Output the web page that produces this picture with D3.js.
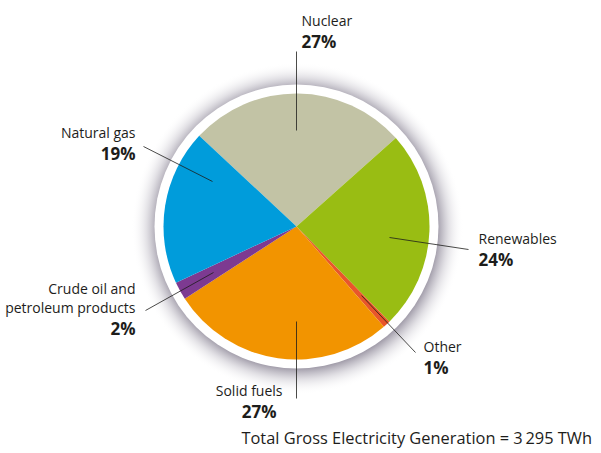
<!DOCTYPE HTML>
<html>
<head>
  <title>Gross electricity generation pie</title>
  <script src="https://d3js.org/d3.v7.min.js"></script>
  <style>
    body { margin: 0; background: #fff; }
    svg text { font-family: "Open Sans", sans-serif; fill: #1d1d1b; }
    .name { font-size: 14px; }
    .pct { font-size: 17px; font-weight: bold; }
  </style>
</head>
<body>
  <script>
    // data, clockwise from the upper-left edge of Nuclear
    var names = ["Nuclear", "Renewables", "Other", "Solid fuels", "Crude oil and|petroleum products", "Natural gas"];
    var values = [26.5, 24.3, 0.9, 27.3, 2.2, 18.9];
    var pctLabels = ["27%", "24%", "1%", "27%", "2%", "19%"];
    var colors = ["#c2c3a5", "#99bd13", "#e8562a", "#f29400", "#7d3a91", "#009cdb"];
    var totalText = "Total Gross Electricity Generation = 3\u2009295 TWh";

    // label layout: leader line (relative to centre) and text anchor
    var leaders = [
      { x1: 0, y1: -96, x2: 0, y2: -175, tx: 5, ty: -201, anchor: "start", pdx: 0 },
      { x1: 93, y1: 11, x2: 172, y2: 23, tx: 182, ty: 17, anchor: "start", pdx: 0 },
      { x1: 65, y1: 69, x2: 119, y2: 126, tx: 127, ty: 125, anchor: "start", pdx: 0 },
      { x1: 0, y1: 95, x2: 0, y2: 172, tx: -14, ty: 169, anchor: "end", pdx: -6 },
      { x1: -83, y1: 46, x2: -151, y2: 84, tx: -161, ty: 67, anchor: "end", pdx: 0 },
      { x1: -84, y1: -45, x2: -153, y2: -80, tx: -161, ty: -89, anchor: "end", pdx: 0 }
    ];

    var width = 601, height = 453;
    var cx = 296.5, cy = 226.5, radius = 133;
    var startDeg = -47;

    var svg = d3.select("body").append("svg")
      .attr("width", width)
      .attr("height", height);

    var defs = svg.append("defs");
    var grad = defs.append("radialGradient").attr("id", "shadow");
    grad.append("stop").attr("offset", "0.84").attr("stop-color", "#5e566c").attr("stop-opacity", 0.6);
    grad.append("stop").attr("offset", "0.91").attr("stop-color", "#8a8496").attr("stop-opacity", 0.25);
    grad.append("stop").attr("offset", "1").attr("stop-color", "#ffffff").attr("stop-opacity", 0);

    var g = svg.append("g").attr("transform", "translate(" + cx + "," + cy + ")");

    // soft shadow and white rim
    g.append("circle").attr("cx", 1).attr("cy", 2).attr("r", 166).attr("fill", "url(#shadow)");
    g.append("circle").attr("r", radius + 9).attr("fill", "#fff");

    var pie = d3.pie().sort(null)
      .startAngle(startDeg * Math.PI / 180)
      .endAngle((startDeg + 360) * Math.PI / 180);
    var arc = d3.arc().innerRadius(0).outerRadius(radius);

    g.selectAll("path.slice")
      .data(pie(values))
      .enter()
      .append("path")
      .attr("class", "slice")
      .attr("d", arc)
      .attr("fill", function(d, i) { return colors[i]; });

    // leader lines
    g.selectAll("line.leader")
      .data(leaders)
      .enter()
      .append("line")
      .attr("class", "leader")
      .attr("x1", function(d) { return d.x1; })
      .attr("y1", function(d) { return d.y1; })
      .attr("x2", function(d) { return d.x2; })
      .attr("y2", function(d) { return d.y2; })
      .attr("stroke", "#1d1d1b")
      .attr("stroke-width", 0.8);

    // labels
    var lab = g.selectAll("g.label")
      .data(names)
      .enter()
      .append("g")
      .attr("class", "label")
      .attr("transform", function(d, i) {
        return "translate(" + leaders[i].tx + "," + leaders[i].ty + ")";
      });

    lab.each(function(d, i) {
      var lines = d.split("|");
      var sel = d3.select(this);
      lines.forEach(function(t, k) {
        sel.append("text")
          .attr("class", "name")
          .attr("y", k * 19)
          .attr("text-anchor", leaders[i].anchor)
          .text(t);
      });
      sel.append("text")
        .attr("class", "pct")
        .attr("x", leaders[i].pdx)
        .attr("y", (lines.length - 1) * 19 + 22)
        .attr("text-anchor", leaders[i].anchor)
        .text(pctLabels[i]);
    });

    svg.append("text")
      .attr("x", 592)
      .attr("y", 444)
      .attr("text-anchor", "end")
      .style("font-size", "16.4px")
      .text(totalText);
  </script>
</body>
</html>
